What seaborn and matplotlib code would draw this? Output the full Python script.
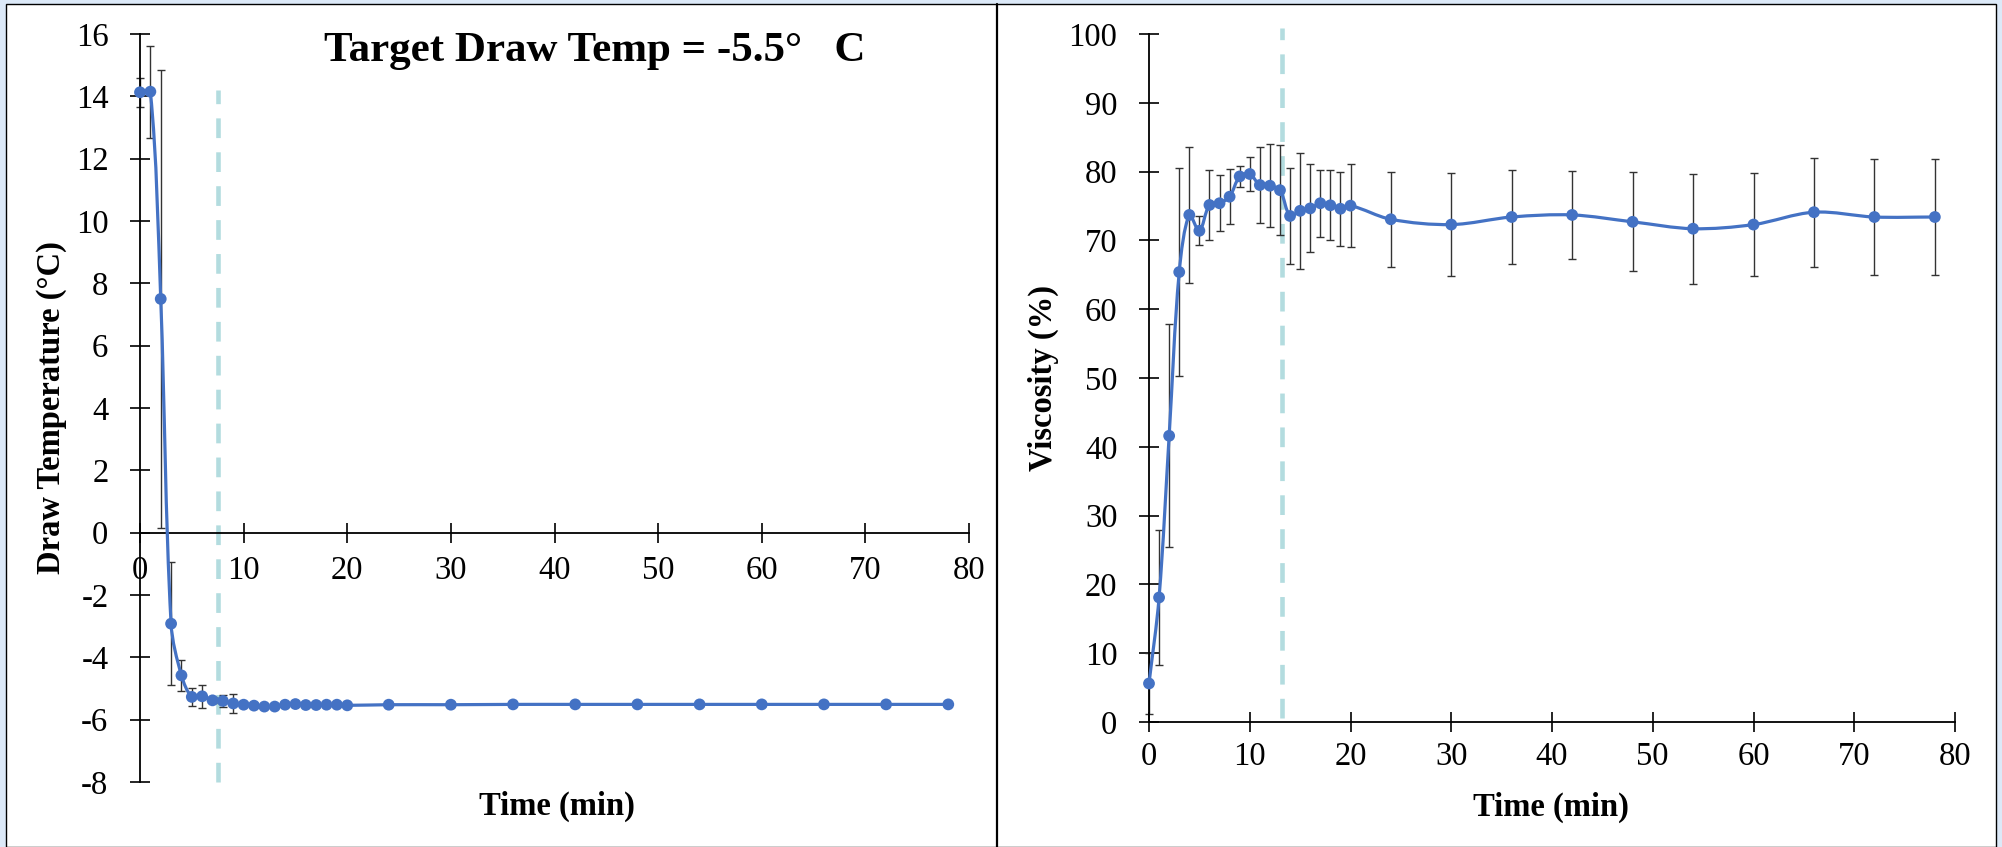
import numpy as np
import matplotlib
matplotlib.use("Agg")
import matplotlib.pyplot as plt
from matplotlib.path import Path
from matplotlib.patches import PathPatch, Rectangle
from matplotlib.lines import Line2D
import seaborn as sns
import pandas as pd

# ---------------- data ----------------
time_min = [0, 1, 2, 3, 4, 5, 6, 7, 8, 9, 10, 11, 12, 13, 14, 15, 16, 17, 18, 19, 20,
            24, 30, 36, 42, 48, 54, 60, 66, 72, 78]

temp_mean = [14.13, 14.15, 7.5, -2.92, -4.58, -5.27, -5.25, -5.38, -5.40, -5.48,
             -5.52, -5.55, -5.58, -5.58, -5.52, -5.50, -5.53, -5.53, -5.52, -5.52,
             -5.54, -5.52, -5.52, -5.51, -5.51, -5.51, -5.51, -5.51, -5.51, -5.51, -5.51]
temp_err = [0.47, 1.48, 7.35, 1.98, 0.5, 0.28, 0.36, 0.1, 0.2, 0.3,
            0.05, 0.05, 0.05, 0.05, 0.05, 0.05, 0.05, 0.05, 0.05, 0.05,
            0.05, 0.05, 0.05, 0.05, 0.05, 0.05, 0.05, 0.05, 0.05, 0.05, 0.05]

visc_mean = [5.6, 18.1, 41.6, 65.4, 73.7, 71.4, 75.15, 75.4, 76.35, 79.3,
             79.65, 78.05, 77.95, 77.3, 73.55, 74.3, 74.65, 75.4, 75.1, 74.6,
             75.05, 73.07, 72.3, 73.4, 73.7, 72.7, 71.7, 72.3, 74.1, 73.4, 73.4]
visc_err = [4.4, 9.85, 16.2, 15.1, 9.85, 2.1, 5.1, 4.1, 4.0, 1.5,
            2.5, 5.5, 6.0, 6.5, 7.0, 8.4, 6.4, 4.9, 5.1, 5.4,
            6.0, 6.9, 7.5, 6.8, 6.4, 7.2, 8.0, 7.5, 7.9, 8.4, 8.4]

temp_marker_time = 7.5
visc_marker_time = 13.2

x_ticks = [0, 10, 20, 30, 40, 50, 60, 70, 80]
temp_yticks = [-8, -6, -4, -2, 0, 2, 4, 6, 8, 10, 12, 14, 16]
visc_yticks = [0, 10, 20, 30, 40, 50, 60, 70, 80, 90, 100]

title_text = "Target Draw Temp = -5.5°   C"
xlabel_text = "Time (min)"
temp_ylabel = "Draw Temperature (°C)"
visc_ylabel = "Viscosity (%)"

# ---------------- style ----------------
sns.set_theme(style="white")
plt.rcParams['font.family'] = ['Liberation Serif', 'DejaVu Serif']
plt.rcParams['axes.unicode_minus'] = False
plt.rcParams['text.color'] = 'black'
plt.rcParams['xtick.color'] = 'black'
plt.rcParams['ytick.color'] = 'black'

BLUE = "#4472C4"
DASH = "#B3DCDF"
ERR = "#333333"
FS = 23.5

W, H = 2002, 847
fig = plt.figure(figsize=(W / 100, H / 100), dpi=100)
fig.patch.set_facecolor("#DCE9F8")

# panel frames (behind the axes)
fig.patches.append(Rectangle((6 / W, 0), (1996 - 6) / W, (H - 4.5) / H,
                             transform=fig.transFigure, facecolor="white",
                             edgecolor="black", lw=1.0, zorder=-2))
fig.lines.append(Line2D([996.7 / W, 996.7 / W], [0, (H - 4.5) / H],
                        transform=fig.transFigure, color="black", lw=1.6, zorder=-1))

ax1 = fig.add_axes([140 / W, (H - 782) / H, 829 / W, 748 / H])
ax2 = fig.add_axes([1149 / W, (H - 722) / H, 806 / W, 688 / H])


def smooth_path(ax, xs, ys):
    """Excel-like smoothed line: chord-weighted cubic Bezier through the data
    points, control points computed in display space."""
    data = np.column_stack([xs, ys]).astype(float)
    P = ax.transData.transform(data)
    n = len(P)
    d = np.linalg.norm(np.diff(P, axis=0), axis=1)
    verts = [P[0]]
    codes = [Path.MOVETO]
    for i in range(n - 1):
        p1, p2 = P[i], P[i + 1]
        p0 = P[i - 1] if i > 0 else p1
        p3 = P[i + 2] if i + 2 < n else p2
        d12 = d[i]
        d01 = d[i - 1] if i > 0 else 0.0
        d23 = d[i + 1] if i + 2 < n else 0.0
        w1 = d12 / (d01 + d12) if (d01 + d12) > 0 else 0.5
        w2 = d12 / (d12 + d23) if (d12 + d23) > 0 else 0.5
        c1 = p1 + (p2 - p0) * w1 / 3.0
        c2 = p2 - (p3 - p1) * w2 / 3.0
        verts += [c1, c2, p2]
        codes += [Path.CURVE4] * 3
    verts = ax.transData.inverted().transform(np.array(verts))
    return Path(verts, codes)


def draw_series(ax, t, m, e):
    df = pd.DataFrame({"t": t, "m": m, "e": e})
    ax.errorbar(df["t"], df["m"], yerr=df["e"], fmt="none", ecolor=ERR,
                elinewidth=1.0, capsize=3.2, capthick=1.0, zorder=2, clip_on=False)
    ax.add_patch(PathPatch(smooth_path(ax, df["t"], df["m"]), facecolor="none",
                           edgecolor=BLUE, lw=2.3, zorder=3, clip_on=False))
    sns.scatterplot(data=df, x="t", y="m", ax=ax, color=BLUE, s=72,
                    edgecolor="none", linewidth=0, zorder=4, clip_on=False, legend=False)


def style_axes(ax, yticks, xpad):
    ax.set_facecolor("none")
    for s in ["top", "right"]:
        ax.spines[s].set_visible(False)
    for s in ["left", "bottom"]:
        ax.spines[s].set_color("black")
        ax.spines[s].set_linewidth(1.3)
    ax.set_xticks(x_ticks)
    ax.set_yticks(yticks)
    ax.set_xticklabels([str(v) for v in x_ticks])
    ax.set_yticklabels([str(v) for v in yticks])
    ax.tick_params(axis="both", which="major", direction="inout", length=14.4,
                   width=1.2, color="black", labelsize=FS, labelcolor="black",
                   bottom=True, left=True)
    ax.tick_params(axis="y", pad=15.5)
    ax.tick_params(axis="x", pad=xpad)
    ax.set_xlabel("")
    ax.set_ylabel("")
    ax.grid(False)


# ---- left panel: draw temperature ----
ax1.set_xlim(0, 80)
ax1.set_ylim(-8, 16)
draw_series(ax1, time_min, temp_mean, temp_err)
ax1.set_xlim(0, 80)
ax1.set_ylim(-8, 16)
ax1.spines["bottom"].set_position(("data", 0))
style_axes(ax1, temp_yticks, 9)
ax1.plot([temp_marker_time, temp_marker_time], [-8, 14.2], color=DASH, lw=3.3,
         dashes=(4.3, 3.1), zorder=1, clip_on=False)

# ---- right panel: viscosity ----
ax2.set_xlim(0, 80)
ax2.set_ylim(0, 100)
draw_series(ax2, time_min, visc_mean, visc_err)
ax2.set_xlim(0, 80)
ax2.set_ylim(0, 100)
style_axes(ax2, visc_yticks, 7)
ax2.plot([visc_marker_time, visc_marker_time], [0.6, 100.9], color=DASH, lw=3.3,
         dashes=(4.3, 3.1), zorder=1, clip_on=False)

# ---- labels ----
fig.text(557 / W, 1 - 806 / H, xlabel_text, ha="center", va="center",
         fontsize=FS, fontweight="bold")
fig.text(1551 / W, 1 - 807 / H, xlabel_text, ha="center", va="center",
         fontsize=FS, fontweight="bold")
fig.text(52 / W, 1 - 408 / H, temp_ylabel, ha="center", va="center",
         rotation=90, fontsize=FS, fontweight="bold")
fig.text(1043 / W, 1 - 378 / H, visc_ylabel, ha="center", va="center",
         rotation=90, fontsize=FS, fontweight="bold")
fig.text(595 / W, 1 - 61 / H, title_text, ha="center", va="baseline",
         fontsize=31, fontweight="bold")

fig.savefig("out.png", dpi=100, facecolor=fig.get_facecolor())
